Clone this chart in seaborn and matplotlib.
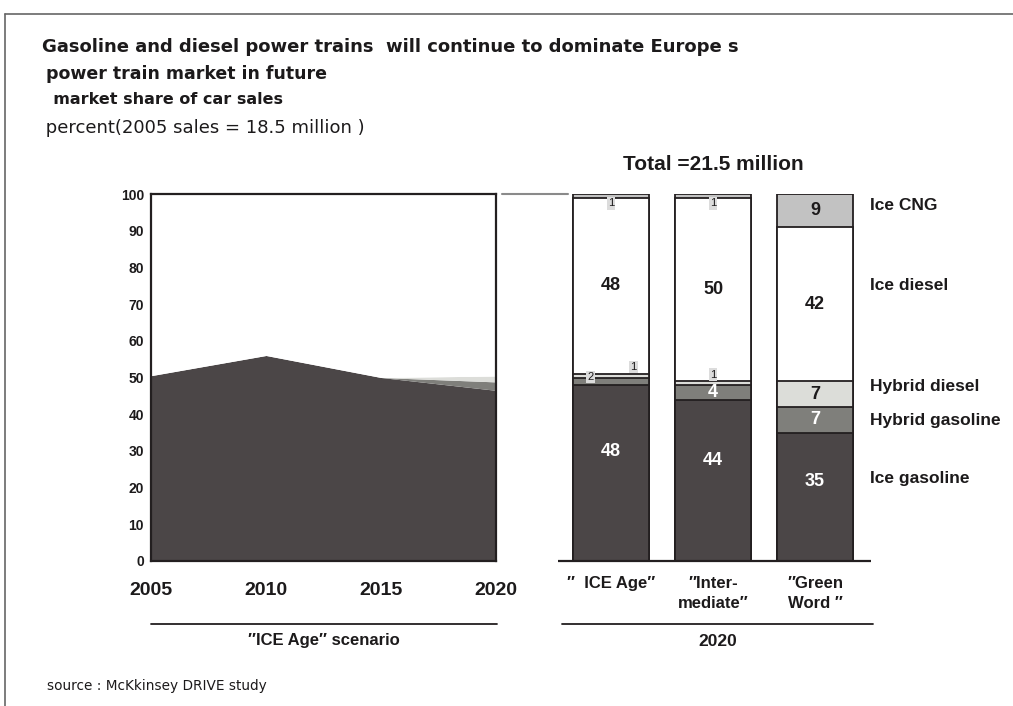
import matplotlib
matplotlib.use("Agg")
import matplotlib.pyplot as plt
from matplotlib import font_manager
from matplotlib.lines import Line2D
import numpy as np
import pandas as pd
import seaborn as sns

# ---------------- data ----------------
years = [2005, 2010, 2015, 2020]
area_ice_gasoline = [50.5, 56.0, 50.0, 46.5]
area_hybrid_gasoline = [0.0, 0.0, 0.0, 2.3]
area_hybrid_diesel = [0.0, 0.0, 0.0, 1.6]

scenarios = ["ICE Age", "Intermediate", "Green Word"]
scenario_labels = ["\u2033  ICE Age\u2033", "\u2033Inter-\nmediate\u2033", "\u2033Green\nWord \u2033"]
ice_gasoline = [48, 44, 35]
hybrid_gasoline = [2, 4, 7]
hybrid_diesel = [1, 1, 7]
ice_diesel = [48, 50, 42]
ice_cng = [1, 1, 9]

series_names = ["Ice gasoline", "Hybrid gasoline", "Hybrid diesel", "Ice diesel", "Ice CNG"]
yticks = [0, 10, 20, 30, 40, 50, 60, 70, 80, 90, 100]

title_lines = [
    "Gasoline and diesel power trains  will continue to dominate Europe s",
    " power train market in future",
    "  market share of car sales",
    " percent(2005 sales = 18.5 million )",
]
total_label = "Total =21.5 million"
source_label = "source : McKkinsey DRIVE study"

# ---------------- style ----------------
sns.set_theme(style="white")
avail = {f.name for f in font_manager.fontManager.ttflist}
narrow = "Liberation Sans Narrow" if "Liberation Sans Narrow" in avail else "Liberation Sans"
plt.rcParams["font.family"] = ["Liberation Sans", "DejaVu Sans"]
plt.rcParams["text.color"] = "#1c1a1b"
plt.rcParams["xtick.color"] = "#1c1a1b"
plt.rcParams["ytick.color"] = "#1c1a1b"
NARROW = [narrow, "Liberation Sans", "DejaVu Sans"]
WIDE = ["DejaVu Sans"]

C_DARK = "#4b4647"
C_HG = "#7f7f7b"
C_HD = "#dcddd9"
C_D = "#ffffff"
C_CNG = "#c2c2c2"
C_EDGE = "#231f20"
colors = [C_DARK, C_HG, C_HD, C_D, C_CNG]

W, H = 1013, 706
fig = plt.figure(figsize=(W / 100, H / 100), dpi=100)
fig.patch.set_facecolor("white")


def fx(x):
    return x / W


def fy(y):
    return 1 - y / H


# ---------------- left area chart ----------------
axL = fig.add_axes([fx(151), fy(561), fx(496) - fx(151), fy(194) - fy(561)])
remainder = [100 - a - b - c for a, b, c in zip(area_ice_gasoline, area_hybrid_gasoline, area_hybrid_diesel)]
axL.stackplot(years, area_ice_gasoline, area_hybrid_gasoline, area_hybrid_diesel, remainder,
              colors=[C_DARK, C_HG, C_HD, "white"], linewidth=0)
axL.set_xlim(2005, 2020)
axL.set_ylim(0, 100)
axL.set_yticks(yticks)
axL.set_yticklabels([str(t) for t in yticks], fontweight="bold", fontsize=10, family=["Liberation Sans"])
axL.set_xticks(years)
axL.set_xticklabels([str(y) for y in years], fontweight="bold", fontsize=14, family=NARROW)
axL.tick_params(axis="y", direction="in", length=7, width=1.2, color=C_EDGE, pad=5, left=True)
axL.tick_params(axis="x", length=0, pad=15)
for s in axL.spines.values():
    s.set_color(C_EDGE)
    s.set_linewidth(1.6)
    s.set_visible(True)
axL.set_facecolor("white")

# ---------------- right stacked bars ----------------
axR = fig.add_axes([fx(560), fy(561), fx(866) - fx(560), fy(194) - fy(561)])
stack = np.array([ice_gasoline, hybrid_gasoline, hybrid_diesel, ice_diesel, ice_cng], dtype=float)
cum = np.cumsum(stack, axis=0)
for i in range(len(series_names) - 1, -1, -1):
    df = pd.DataFrame({"scenario": scenarios, "value": cum[i]})
    sns.barplot(data=df, x="scenario", y="value", color=colors[i], saturation=1,
                width=0.745, edgecolor=C_EDGE, linewidth=1.3, ax=axR, errorbar=None)
axR.set_xlim(-0.5, 2.5)
axR.set_ylim(0, 100)
axR.axis("off")
axR.plot([-0.52, 2.55], [0, 0], color=C_EDGE, lw=1.6, clip_on=False, solid_capstyle="butt")

# value labels
text_colors = ["white", "white", "#1c1a1b", "#1c1a1b", "#1c1a1b"]
small_offsets = {  # (series index, bar index): (dx, dy)
    (1, 0): (-0.2, 1.1),
    (2, 0): (0.22, 2.4),
    (2, 1): (0.0, 2.3),
    (4, 0): (0.0, -2.0),
    (4, 1): (0.0, -2.0),
}
for i in range(len(series_names)):
    for j in range(len(scenarios)):
        v = stack[i, j]
        bottom = cum[i, j] - v
        if v >= 3:
            frac = 0.62 if i == 0 else 0.5
            axR.text(j, bottom + v * frac, f"{int(v)}", ha="center", va="center",
                     fontsize=13, fontweight="bold", color=text_colors[i],
                     family=["Liberation Sans"])
        else:
            dx, dy = small_offsets.get((i, j), (0, 0))
            axR.text(j + dx, bottom + v / 2 + dy, f"{int(v)}", ha="center", va="center",
                     fontsize=8, color="#1c1a1b", family=["Liberation Sans"],
                     bbox=dict(boxstyle="square,pad=0.12", fc="#dcdcdc", ec="none"))

# scenario labels under bars
for j, lab in enumerate(scenario_labels):
    axR.text(j, -4.2, lab, ha="center", va="top", fontsize=12, fontweight="bold",
             family=NARROW, linespacing=1.35)

# series labels to the right
legend_y = [205, 286, 387, 421, 478]
for name, yy in zip(series_names[::-1], legend_y):
    fig.text(fx(870), fy(yy), name, ha="left", va="center", fontsize=12.5, fontweight="bold",
             family=NARROW)

# ---------------- texts ----------------
fig.text(fx(42), fy(47), title_lines[0], ha="left", va="center", fontsize=13, fontweight="bold",
         family=WIDE)
fig.text(fx(40), fy(74), title_lines[1], ha="left", va="center", fontsize=12.5, fontweight="bold",
         family=WIDE)
fig.text(fx(42), fy(100), title_lines[2], ha="left", va="center", fontsize=11.5, fontweight="bold",
         family=WIDE)
fig.text(fx(40), fy(128), title_lines[3], ha="left", va="center", fontsize=13, family=WIDE)
fig.text(fx(713), fy(165), total_label, ha="center", va="center", fontsize=15, fontweight="bold",
         family=NARROW)
fig.text(fx(47), fy(686), source_label, ha="left", va="center", fontsize=9.8, family=WIDE)
fig.text(fx(324), fy(641), "\u2033ICE Age\u2033 scenario", ha="center", va="center", fontsize=12,
         fontweight="bold", family=NARROW)
fig.text(fx(718), fy(641), "2020", ha="center", va="center", fontsize=12.5, fontweight="bold",
         family=NARROW)

# ---------------- decorative lines ----------------
def hline(x0, x1, y, color, lw):
    fig.add_artist(Line2D([fx(x0), fx(x1)], [fy(y), fy(y)], color=color, lw=lw,
                          transform=fig.transFigure))

hline(151, 497, 624, C_EDGE, 1.3)
hline(562, 873, 624, C_EDGE, 1.3)
hline(502, 568, 194, "#8a8a8a", 1.5)
# page frame
hline(5, 1013, 14, "#666666", 1.2)
fig.add_artist(Line2D([fx(5), fx(5)], [fy(14), fy(706)], color="#666666", lw=1.2,
                      transform=fig.transFigure))

fig.savefig("out.png", dpi=100, facecolor="white")
